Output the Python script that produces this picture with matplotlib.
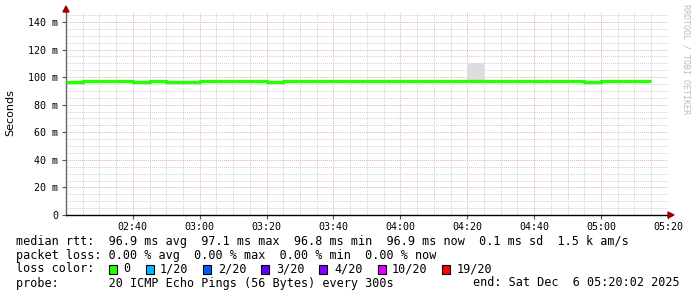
import matplotlib
matplotlib.use("Agg")
import matplotlib.pyplot as plt
from matplotlib.patches import Rectangle

# ---- data (minutes since midnight, values in ms) ----
slot_start = [140 + 5 * i for i in range(35)]          # 02:20 ... 05:10
median_ms = [96.7, 97.1, 97.1, 97.1, 96.7, 97.1, 96.7, 96.7, 97.1, 97.1,
             97.1, 97.1, 96.7, 97.1, 97.1, 97.1, 97.1, 97.1, 97.1, 97.1,
             97.1, 97.1, 97.1, 97.1, 97.1, 97.1, 97.1, 97.1, 97.1, 97.1,
             97.1, 96.7, 97.1, 97.1, 97.1]
smoke_lo = [m - 0.4 for m in median_ms]
smoke_hi = [m + 0.4 for m in median_ms]
smoke_hi[24] = 110.0   # 04:20 spread

tick_pos = [160, 180, 200, 220, 240, 260, 280, 300, 320]
tick_lab = ["02:40", "03:00", "03:20", "03:40", "04:00", "04:20", "04:40", "05:00", "05:20"]
ytick_pos = [0, 20, 40, 60, 80, 100, 120, 140]
ytick_lab = ["0", "20 m", "40 m", "60 m", "80 m", "100 m", "120 m", "140 m"]

loss_labels = ["0", "1/20", "2/20", "3/20", "4/20", "10/20", "19/20"]
loss_colors = ["#26ff00", "#00b8ff", "#0059ff", "#5e00ff", "#7e00ff", "#dd00ff", "#ff0000"]

W, H = 697, 297
fig = plt.figure(figsize=(W / 100, H / 100), dpi=100)
fig.patch.set_facecolor("white")

def px(x, y):
    return x / W, 1 - y / H

ax_l, ax_r, ax_t, ax_b = 66, 668, 12, 215
ax = fig.add_axes([ax_l / W, 1 - ax_b / H, (ax_r - ax_l) / W, (ax_b - ax_t) / H])
ymax = (ax_b - ax_t) / 1.379
ax.set_xlim(140.03, 320.03)
ax.set_ylim(0, ymax)

xs = slot_start + [slot_start[-1] + 5]
ax.fill_between(xs, smoke_lo + [smoke_lo[-1]], smoke_hi + [smoke_hi[-1]],
                step="post", color="#dddddd", lw=0, zorder=2)
ax.plot(xs, median_ms + [median_ms[-1]], drawstyle="steps-post",
        color="#26ff00", lw=2.4, zorder=3, solid_capstyle="butt")

mono = "DejaVu Sans Mono"
ax.set_xticks(tick_pos)
ax.set_xticklabels(tick_lab, family=mono, fontsize=7.2)
ax.set_xticks(list(range(145, 320, 5)), minor=True)
ax.set_yticks(ytick_pos)
ax.set_yticklabels(ytick_lab, family=mono, fontsize=7.2)
ax.set_yticks(list(range(5, 146, 5)), minor=True)
ax.tick_params(axis="both", which="major", length=3, width=0.8, color="#555555")
ax.tick_params(axis="x", which="major", pad=2)
ax.tick_params(axis="y", which="major", pad=2.5)
ax.tick_params(axis="both", which="minor", length=0)

ax.grid(True, which="minor", color="#d0d0d0", ls=(0, (1, 1)), lw=0.7, zorder=0)
ax.grid(True, which="major", color="#ecb0b0", ls=(0, (1, 1)), lw=0.7, zorder=1)
ax.set_axisbelow(True)
for s in ["top", "right"]:
    ax.spines[s].set_visible(False)
ax.spines["left"].set_color("#666666")
ax.spines["bottom"].set_color("#000000")
ax.spines["left"].set_linewidth(1.0)
ax.spines["bottom"].set_linewidth(1.0)

# arrows
fig.patches.append(plt.Polygon([px(ax_r, ax_b - 3), px(ax_r, ax_b + 3), px(ax_r + 6, ax_b)],
                               closed=True, transform=fig.transFigure, color="#990000"))
fig.patches.append(plt.Polygon([px(ax_l - 3, ax_t), px(ax_l + 3, ax_t), px(ax_l, ax_t - 6)],
                               closed=True, transform=fig.transFigure, color="#990000"))

fig.text(*px(10, 113), "Seconds", rotation=90, ha="center", va="center",
         fontsize=8, family="DejaVu Sans")
fig.text(*px(686, 4), "RRDTOOL / TOBI OETIKER", rotation=270, ha="center", va="top",
         fontsize=6.0, family=mono, color="#bbbbbb")

fs = 8.5
fig.text(*px(16, 241), "median rtt:  96.9 ms avg  97.1 ms max  96.8 ms min  96.9 ms now  0.1 ms sd  1.5 k am/s",
         family=mono, fontsize=fs, va="center")
fig.text(*px(16, 255), "packet loss: 0.00 % avg  0.00 % max  0.00 % min  0.00 % now",
         family=mono, fontsize=fs, va="center")
fig.text(*px(16, 269), "loss color:", family=mono, fontsize=fs, va="center")
sq_x = [108.7, 145.7, 203, 260.7, 319.3, 378.3, 442.3]
lab_x = [123, 160, 218, 276, 334, 392, 457]
for sx, lx, lab, col in zip(sq_x, lab_x, loss_labels, loss_colors):
    x0, y0 = px(sx, 273.5)
    fig.patches.append(Rectangle((x0, y0), 8 / W, 9 / H, transform=fig.transFigure,
                                 facecolor=col, edgecolor="black", lw=0.8))
    fig.text(*px(lx, 269), lab, family=mono, fontsize=fs, va="center")
fig.text(*px(16, 283), "probe:       20 ICMP Echo Pings (56 Bytes) every 300s",
         family=mono, fontsize=fs, va="center")
fig.text(*px(680, 283), "end: Sat Dec  6 05:20:02 2025",
         family=mono, fontsize=fs, va="center", ha="right")

fig.savefig("out.png", dpi=100)
